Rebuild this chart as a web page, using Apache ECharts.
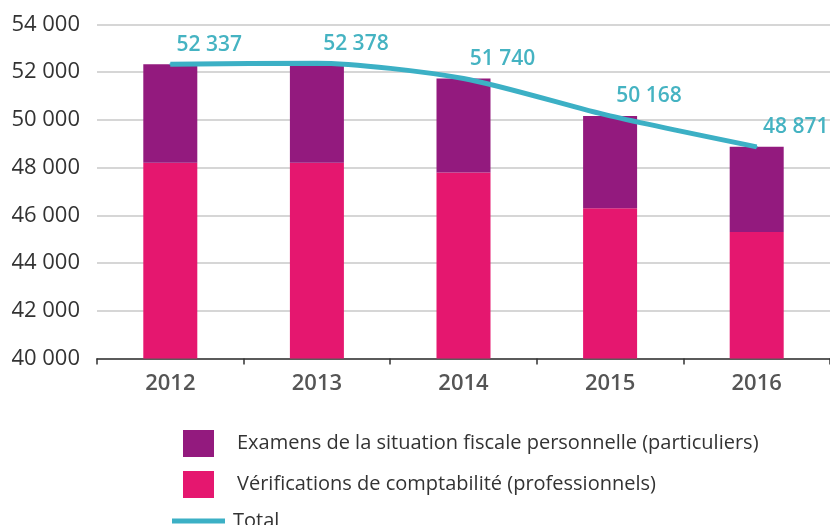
<!DOCTYPE html>
<html><head><meta charset="utf-8">
<script src="https://cdn.jsdelivr.net/npm/echarts@6/dist/echarts.min.js"></script>
<style>html,body{margin:0;padding:0;background:#fff}#c{width:830px;height:525px}</style>
</head><body><div id="c"></div>
<script>
const years = ['2012','2013','2014','2015','2016'];
const verifications = [48200, 48200, 47800, 46300, 45300];
const totals = [52337, 52378, 51740, 50168, 48871];
const examens = [4137, 4178, 3940, 3868, 3571];
const yTicks = [40000, 42000, 44000, 46000, 48000, 50000, 52000, 54000];

const fmt = v => String(v).replace(/\B(?=(\d{3})+(?!\d))/g, ' ');
const chart = echarts.init(document.getElementById('c'), null, {renderer:'canvas'});
chart.setOption({
  animation:false,
  grid:{left:97, right:0, top:24.5, bottom:166.5, containLabel:false},
  xAxis:{type:'category', data:years,
    axisLine:{lineStyle:{color:'#333', width:1.5}},
    axisTick:{show:true, alignWithLabel:false, length:6, lineStyle:{color:'#333', width:1.5}},
    axisLabel:{color:'#555', fontSize:22, fontWeight:600, fontFamily:'Open Sans', margin:14}
  },
  yAxis:{type:'value', min:yTicks[0], max:yTicks[yTicks.length-1], interval:2000,
    axisLine:{show:false}, axisTick:{show:false},
    splitLine:{lineStyle:{color:'#c8c8c8', width:1.5}},
    axisLabel:{color:'#333', fontSize:22, fontFamily:'Open Sans', margin:17, formatter:fmt}
  },
  legend:[{
    data:['Examens de la situation fiscale personnelle (particuliers)','Vérifications de comptabilité (professionnels)'],
    orient:'vertical', left:178, top:425, itemWidth:31, itemHeight:27, itemGap:14,
    icon:'rect',
    textStyle:{color:'#333', fontSize:20, fontFamily:'Open Sans', padding:[0,0,0,18]}
  },{
    data:['Total'], orient:'vertical', left:167, top:506, itemWidth:53, itemHeight:5,
    icon:'rect',
    textStyle:{color:'#333', fontSize:20, fontFamily:'Open Sans', padding:[0,0,0,3]}
  }],
  series:[
    {name:'Vérifications de comptabilité (professionnels)', type:'bar', stack:'a', data:verifications,
      barWidth:54, itemStyle:{color:'#e5176f'}},
    {name:'Examens de la situation fiscale personnelle (particuliers)', type:'bar', stack:'a', data:examens,
      barWidth:54, itemStyle:{color:'#931a7e'}},
    {name:'Total', type:'line', data:totals, smooth:0.25, symbol:'circle', symbolSize:2, showSymbol:true, z:5,
      lineStyle:{color:'#3cb0c5', width:5}, itemStyle:{color:'#3cb0c5'},
      label:{show:true, position:'top', distance:8, offset:[39,0], formatter:p=>fmt(p.value),
        color:'#45b3c2', fontSize:21, fontWeight:600, fontFamily:'Open Sans'}}
  ]
});
</script></body></html>
